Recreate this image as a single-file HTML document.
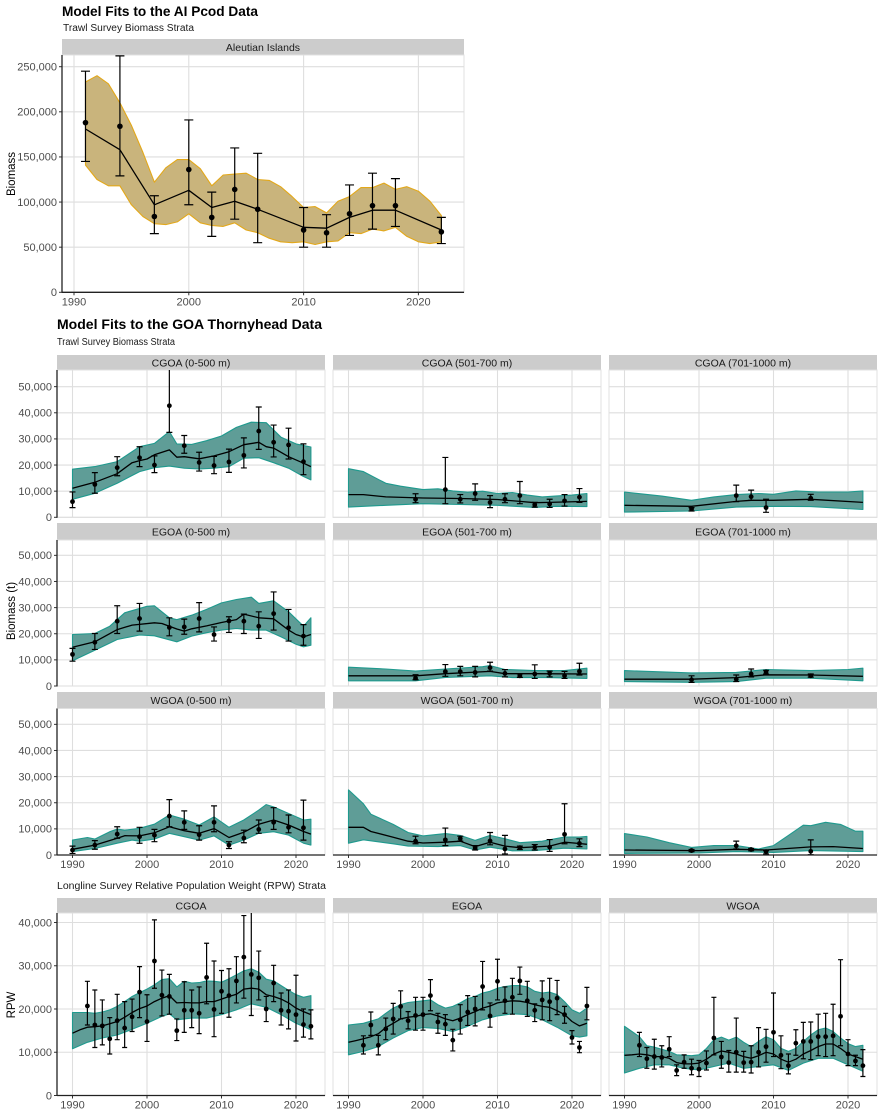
<!DOCTYPE html>
<html><head><meta charset="utf-8"><title>Model Fits</title>
<style>
html,body{margin:0;padding:0;background:#fff;}
svg{display:block;font-family:"Liberation Sans",Arial,sans-serif;}
</style></head>
<body>
<svg id="chart" width="884" height="1117" viewBox="0 0 884 1117" xmlns="http://www.w3.org/2000/svg">
<text x="62" y="16" font-size="14" font-weight="bold" fill="#000" textLength="196" lengthAdjust="spacingAndGlyphs">Model Fits to the AI Pcod Data</text>
<text x="63" y="31" font-size="10" fill="#1a1a1a" textLength="131" lengthAdjust="spacingAndGlyphs">Trawl Survey Biomass Strata</text>
<text x="57" y="329" font-size="14" font-weight="bold" fill="#000" textLength="265" lengthAdjust="spacingAndGlyphs">Model Fits to the GOA Thornyhead Data</text>
<text x="57" y="345" font-size="10" fill="#1a1a1a" textLength="118" lengthAdjust="spacingAndGlyphs">Trawl Survey Biomass Strata</text>
<text x="57" y="889" font-size="10" fill="#1a1a1a" textLength="269" lengthAdjust="spacingAndGlyphs">Longline Survey Relative Population Weight (RPW) Strata</text>
<text transform="translate(15,174) rotate(-90)" text-anchor="middle" font-size="11.5" fill="#000">Biomass</text>
<text transform="translate(15,611) rotate(-90)" text-anchor="middle" font-size="11.5" fill="#000">Biomass (t)</text>
<text transform="translate(15,1005) rotate(-90)" text-anchor="middle" font-size="11.5" fill="#000">RPW</text>
<g id="panels"></g>
</svg>
<script>
// ===== Aleutian Islands (thousands) =====
const aiObsYears=[1991,1994,1997,2000,2002,2004,2006,2010,2012,2014,2016,2018,2022];
const aiObs=[188,184,84,136,83,114,92,69,66,87,96,96,67];
const aiLo=[145,129,65,97,62,81,55,50,50,63,70,73,54];
const aiHi=[245,262,107,191,111,160,154,94,86,119,132,126,83];
const aiFit=[181,158,97,113,94,101,92,72,71,83,91,91,69];
const aiBandYears=[1991,1992,1993,1994,1995,1996,1997,1998,1999,2000,2001,2002,2003,2004,2005,2006,2007,2008,2009,2010,2011,2012,2013,2014,2015,2016,2017,2018,2019,2020,2021,2022];
const aiBandHi=[233,240,231,210,185,155,122,138,147,147,137,118,130,131,132,125,124,117,106,94,95,88,101,106,116,116,121,114,117,112,101,85];
const aiBandLo=[141,125,118,118,97,84,76,75,78,87,77,74,73,77,69,66,60,56,55,56,53,56,57,66,65,70,68,72,62,56,54,56];

// ===== GOA trawl (thousands t) =====
const cg0Years=[1990,1993,1996,1999,2001,2003,2005,2007,2009,2011,2013,2015,2017,2019,2021];
const cg0Obs=[6.0,12.6,19.0,22.8,20.0,42.7,27.4,21.0,19.8,21.2,23.7,33.0,28.7,27.7,21.3];
const cg0Lo=[3.7,9.2,15.9,19.4,17.1,32.5,24.5,17.7,16.7,17.2,18.9,26.0,23.1,22.3,16.3];
const cg0Hi=[9.7,17.1,23.2,27.0,23.5,60,31.3,24.9,23.3,26.1,30.4,42.2,35.3,34.1,28.1];
const cg0FitYears=[1990,1993,1996,1998,1999,2000,2001,2003,2004,2005,2007,2009,2011,2013,2015,2016,2017,2019,2021,2022];
const cg0Fit=[11.1,13.4,16.7,20.9,21.7,22.3,23.9,25.8,23.0,23.2,22.4,23.5,25.1,27.8,28.7,27.0,26.5,23.2,20.7,19.4];
const cg0UpYears=[1990,1993,1996,1999,2001,2003,2004,2006,2008,2010,2012,2014,2016,2018,2020,2022];
const cg0Up=[18.4,19.4,21.3,27.0,28.3,32.8,28.1,27.9,29.3,31.1,34.4,36.4,36.2,30.6,28.1,26.9];
const cg0DnYears=[1990,1993,1996,1999,2001,2003,2005,2007,2009,2011,2013,2015,2017,2019,2021,2022];
const cg0Dn=[6.9,9.2,13.0,17.5,19.0,19.6,18.8,18.5,18.8,19.4,22.6,22.8,20.9,18.8,15.6,14.3];

const eg0Years=[1990,1993,1996,1999,2003,2005,2007,2009,2011,2013,2015,2017,2019,2021];
const eg0Obs=[12.1,16.7,24.8,25.8,22.4,22.6,25.8,19.7,24.9,24.8,22.9,27.7,22.3,19.1];
const eg0Lo=[9.5,14.0,20.1,21.0,19.2,19.8,20.7,17.2,20.5,20.1,18.2,21.4,17.2,15.6];
const eg0Hi=[14.4,20.1,30.7,31.6,26.1,25.6,31.9,22.6,26.5,27.5,28.4,36.0,29.3,23.5];
const eg0FitYears=[1990,1993,1996,1998,2001,2002,2004,2005,2006,2008,2010,2012,2013,2015,2017,2019,2020,2021,2022];
const eg0Fit=[14.8,16.9,21.6,23.3,24.2,23.9,21.8,21.0,21.9,23.0,24.3,25.4,27.5,26.1,25.7,21.4,19.7,18.8,19.7];
const eg0UpYears=[1990,1993,1995,1997,2000,2001,2003,2004,2006,2008,2010,2012,2014,2015,2017,2019,2021,2022];
const eg0Up=[19.7,20.1,22.9,28.0,30.5,30.7,26.1,25.4,27.1,29.3,31.8,33.1,34.0,31.6,32.6,28.4,22.9,26.1];
const eg0DnYears=[1990,1993,1996,1999,2001,2004,2006,2008,2010,2012,2014,2016,2018,2020,2021,2022];
const eg0Dn=[9.7,13.7,17.8,19.5,19.2,16.9,19.1,20.4,21.4,22.0,21.4,21.4,18.8,16.0,15.0,15.6];

const wg0Years=[1990,1993,1996,1999,2001,2003,2005,2007,2009,2011,2013,2015,2017,2019,2021];
const wg0Obs=[1.9,3.8,8.0,7.0,7.6,14.9,12.5,7.8,12.5,3.8,6.5,9.8,12.5,10.6,10.4];
const wg0Lo=[0.6,2.2,6.4,4.5,5.1,10.8,9.8,5.7,8.9,2.5,4.7,8.3,9.8,8.5,5.7];
const wg0Hi=[3.4,5.5,10.8,10.6,9.8,21.2,16.9,11.2,18.8,5.1,9.5,13.4,18.1,15.3,21.0];
const wg0FitYears=[1990,1993,1996,1997,1999,2001,2003,2005,2007,2009,2011,2013,2015,2017,2019,2021,2022];
const wg0Fit=[2.2,3.8,6.4,7.4,7.3,8.5,10.8,9.3,8.3,10.1,6.7,8.7,11.8,13.4,11.5,9.0,8.0];
const wg0UpYears=[1990,1992,1993,1995,1996,1997,1999,2001,2003,2005,2007,2009,2011,2013,2015,2016,2017,2019,2021,2022];
const wg0Up=[5.7,6.7,6.1,8.9,9.9,9.5,10.2,11.8,15.3,13.7,11.5,14.6,10.6,13.4,17.2,19.3,18.4,15.9,13.4,13.7];
const wg0DnYears=[1990,1993,1996,1998,1999,2001,2003,2005,2007,2009,2011,2013,2015,2017,2019,2021,2022];
const wg0Dn=[1.3,2.5,4.5,5.7,5.3,6.1,8.3,7.0,5.7,7.3,3.8,5.7,8.3,8.9,7.6,4.5,3.8];

const cg5Years=[1999,2003,2005,2007,2009,2011,2013,2015,2017,2019,2021];
const cg5Obs=[6.9,10.6,6.9,9.1,5.7,6.9,8.3,4.8,5.1,6.3,7.7];
const cg5Lo=[5.6,5.2,5.5,6.5,3.7,5.6,5.2,3.9,3.8,4.3,5.7];
const cg5Hi=[9.0,22.9,8.7,12.8,8.3,9.0,13.7,5.7,6.9,8.7,11.0];
const cg5FitYears=[1990,1992,1995,2000,2005,2010,2013,2015,2017,2022];
const cg5Fit=[8.7,8.7,7.8,7.4,7.2,6.8,6.1,5.6,5.7,6.1];
const cg5UpYears=[1990,1992,1995,1997,2000,2002,2004,2006,2008,2010,2012,2014,2016,2018,2020,2022];
const cg5Up=[18.6,17.5,13.0,11.9,10.6,10.9,10.1,9.6,10.0,9.1,9.5,8.5,7.8,8.2,8.5,9.1];
const cg5DnYears=[1990,1995,2000,2005,2010,2015,2018,2022];
const cg5Dn=[3.9,4.6,5.2,4.9,4.6,3.8,4.2,4.1];

const cg7Years=[1999,2005,2007,2009,2015];
const cg7Obs=[3.2,8.3,7.9,3.7,7.3];
const cg7Lo=[2.4,6.0,6.5,1.9,6.5];
const cg7Hi=[3.7,12.3,10.4,6.9,8.8];
const cg7FitYears=[1990,1999,2005,2007,2010,2015,2022];
const cg7Fit=[4.6,4.2,6.1,6.5,6.5,6.9,5.7];
const cg7UpYears=[1990,1995,1999,2002,2005,2008,2010,2013,2016,2020,2022];
const cg7Up=[9.7,8.1,6.5,7.8,8.7,9.1,8.8,10.1,9.7,9.7,10.1];
const cg7DnYears=[1990,1999,2005,2010,2015,2022];
const cg7Dn=[2.0,2.4,3.9,4.2,4.1,3.0];

const eg5Years=[1999,2003,2005,2007,2009,2011,2013,2015,2017,2019,2021];
const eg5Obs=[3.0,5.5,5.5,5.2,7.0,4.8,3.9,4.6,4.8,3.9,5.6];
const eg5Lo=[2.4,3.7,3.9,3.5,5.7,3.5,3.3,2.9,3.5,2.9,4.2];
const eg5Hi=[4.3,8.2,7.5,7.5,9.1,6.3,4.6,8.1,5.7,5.6,8.7];
const eg5FitYears=[1990,1999,2003,2009,2011,2015,2022];
const eg5Fit=[3.9,3.9,4.7,5.6,4.7,4.7,4.6];
const eg5UpYears=[1990,1995,1999,2003,2008,2009,2011,2015,2019,2022];
const eg5Up=[7.2,6.5,5.7,6.5,7.4,7.8,6.3,5.9,5.9,6.8];
const eg5DnYears=[1990,1999,2003,2009,2012,2016,2022];
const eg5Dn=[2.0,2.0,3.3,3.9,3.2,3.3,2.9];

const eg7Years=[1999,2005,2007,2009,2015];
const eg7Obs=[2.4,2.6,4.6,5.4,3.9];
const eg7Lo=[1.4,1.7,3.5,4.6,3.4];
const eg7Hi=[3.9,4.2,6.5,6.0,4.6];
const eg7FitYears=[1990,1999,2005,2009,2015,2022];
const eg7Fit=[2.6,2.6,3.2,4.3,4.2,3.7];
const eg7UpYears=[1990,1999,2005,2009,2015,2020,2022];
const eg7Up=[5.9,5.0,5.2,6.3,5.9,6.3,6.8];
const eg7DnYears=[1990,1999,2005,2009,2015,2022];
const eg7Dn=[1.7,1.4,1.7,3.0,3.0,2.0];

const wg5Years=[1999,2003,2005,2007,2009,2011,2013,2015,2017,2019,2021];
const wg5Obs=[5.3,5.8,6.3,2.7,5.4,2.3,2.8,3.0,3.0,7.9,4.4];
const wg5Lo=[4.3,3.6,5.3,1.9,3.9,0.4,2.1,1.9,1.4,4.3,3.2];
const wg5Hi=[7.2,10.3,7.2,3.6,8.6,7.5,3.4,4.0,5.9,19.6,6.2];
const wg5FitYears=[1990,1992,1993,1996,1998,2000,2003,2005,2007,2009,2011,2013,2015,2017,2019,2021,2022];
const wg5Fit=[10.6,10.6,9.0,6.8,5.3,4.6,4.9,5.3,3.2,4.9,3.4,2.8,3.1,3.4,4.9,4.4,4.1];
const wg5UpYears=[1990,1992,1993,1996,1998,2000,2003,2005,2007,2009,2011,2013,2016,2019,2021,2022];
const wg5Up=[24.9,19.6,15.6,11.7,8.6,7.3,8.2,7.5,5.6,7.5,6.2,4.7,5.3,6.9,6.9,7.1];
const wg5DnYears=[1990,1992,1996,1998,2002,2005,2007,2009,2012,2015,2019,2022];
const wg5Dn=[4.5,5.8,4.3,3.4,3.2,3.6,1.9,3.0,1.6,1.7,2.6,2.3];

const wg7Years=[1999,2005,2007,2009,2015];
const wg7Obs=[1.7,3.5,2.1,1.3,1.4];
const wg7Lo=[1.3,2.3,1.6,0.4,0.1];
const wg7Hi=[2.1,5.3,2.5,1.7,5.8];
const wg7FitYears=[1990,2000,2005,2009,2015,2018,2022];
const wg7Fit=[1.9,1.7,2.2,1.9,3.1,3.2,2.5];
const wg7UpYears=[1990,1993,1996,1999,2002,2005,2008,2010,2012,2014,2015,2017,2019,2021,2022];
const wg7Up=[8.2,6.9,4.7,2.9,3.6,3.6,2.3,3.6,7.5,11.4,11.2,12.5,11.7,9.1,9.1];
const wg7DnYears=[1990,2000,2005,2010,2015,2022];
const wg7Dn=[0.6,0.8,1.3,1.0,1.7,1.3];

// ===== Longline RPW (thousands) =====
const llYears=[1992,1993,1994,1995,1996,1997,1998,1999,2000,2001,2002,2003,2004,2005,2006,2007,2008,2009,2010,2011,2012,2013,2014,2015,2016,2017,2018,2019,2020,2021,2022];
const llFitYears=[1990,1991,1992,1993,1994,1995,1996,1997,1998,1999,2000,2001,2002,2003,2004,2005,2006,2007,2008,2009,2010,2011,2012,2013,2014,2015,2016,2017,2018,2019,2020,2021,2022];
const llcObs=[20.7,16.3,16.1,13.1,17.3,15.6,18.2,23.9,17.1,31.1,23.2,22.9,15.0,19.7,19.7,19.0,27.3,19.9,24.1,23.1,26.5,32.0,28.0,27.2,20.0,26.0,19.7,19.5,18.7,16.4,16.0];
const llcHi=[26.4,24.4,22.1,18.0,23.4,21.7,22.3,29.8,23.3,40.6,29.0,28.0,17.7,26.3,24.4,25.1,35.2,31.1,28.9,29.3,32.1,41.6,45,33.4,22.9,30.1,23.7,24.4,27.8,20.0,19.8];
const llcLo=[16.3,11.1,11.7,9.6,12.9,11.1,14.8,18.0,12.5,24.8,18.4,18.8,12.7,14.6,15.7,14.3,21.2,13.6,19.0,18.1,21.4,22.5,18.5,22.1,17.1,21.7,16.3,15.4,12.6,13.5,13.1];
const llcFit=[14.4,15.2,15.8,15.9,16.1,16.6,17.1,18.1,19.2,20.1,20.7,21.7,22.5,23.1,21.4,21.5,21.4,21.4,21.7,21.7,22.3,22.9,23.4,24.6,24.8,24.6,23.3,22.9,22.3,21.4,20.2,19.4,18.7];
const llcUpYears=[1990,1992,1993,1994,1995,1996,1997,1998,1999,2000,2001,2002,2003,2004,2005,2006,2007,2008,2009,2010,2011,2012,2013,2014,2015,2016,2017,2018,2019,2020,2021,2022];
const llcUp=[19.2,19.2,19.0,19.3,19.8,20.6,21.7,22.9,23.8,24.6,25.6,26.8,27.0,25.1,26.4,26.0,26.1,26.5,26.4,26.2,27.0,27.9,28.8,29.3,28.5,26.9,26.5,25.4,24.3,23.3,22.7,23.1];
const llcDnYears=[1990,1992,1994,1996,1998,2000,2002,2003,2004,2006,2008,2010,2012,2014,2016,2018,2020,2022];
const llcDn=[10.8,12.3,13.3,14.0,15.3,16.7,18.3,18.9,17.5,17.9,17.9,18.7,19.8,21.2,20.4,18.7,16.7,15.2];

const lleObs=[11.6,16.3,11.6,15.4,17.7,20.6,17.3,18.5,18.7,23.1,17.0,16.5,12.8,17.5,19.3,20.0,25.2,18.4,26.4,21.9,22.7,26.5,21.9,19.7,22.1,21.7,22.5,18.7,13.4,11.1,20.7];
const lleHi=[13.8,19.3,13.9,17.9,21.3,24.2,19.4,22.7,22.7,26.8,19.0,18.7,15.3,21.0,23.1,22.9,31.0,21.4,31.5,25.1,27.1,29.7,26.4,21.2,26.5,27.1,26.6,20.6,15.0,12.5,25.0];
const lleLo=[9.6,13.9,9.4,12.9,14.2,17.7,15.4,15.1,15.1,19.6,14.4,13.9,10.3,14.2,16.2,16.1,19.8,15.8,22.1,19.0,18.8,23.4,18.3,17.1,17.5,17.3,18.7,16.7,11.9,9.9,17.5];
const lleFit=[12.3,12.7,13.1,13.6,14.3,15.7,16.7,17.7,18.1,18.3,18.7,18.9,18.4,17.7,17.3,17.9,18.7,19.4,20.2,20.7,21.4,21.7,21.9,21.8,21.5,21.0,20.6,20.4,19.6,18.7,17.1,16.1,16.7];
const lleUpYears=[1990,1992,1994,1995,1996,1997,1998,2000,2001,2002,2003,2004,2005,2006,2007,2008,2009,2010,2011,2012,2013,2014,2015,2016,2017,2018,2019,2020,2021,2022];
const lleUp=[16.3,16.7,17.7,19.0,20.2,21.0,21.5,21.9,22.1,21.0,20.2,20.6,21.4,22.4,22.9,23.7,24.1,24.8,25.2,25.4,25.4,25.1,24.1,23.7,23.9,23.3,21.7,19.8,19.0,20.2];
const lleDnYears=[1990,1992,1994,1996,1998,2000,2002,2004,2006,2008,2010,2012,2014,2016,2018,2020,2021,2022];
const lleDn=[9.4,10.2,11.3,13.3,15.0,15.7,15.5,14.8,16.0,17.5,18.4,18.9,18.7,17.5,15.8,13.8,13.5,13.8];

const llwObs=[11.6,8.5,9.0,8.8,10.7,5.8,7.7,6.3,6.1,7.5,13.3,8.9,7.6,10.0,7.6,7.7,10.0,11.3,14.6,9.3,6.9,12.1,12.5,12.5,13.6,13.6,13.8,18.3,9.6,8.0,6.9];
const llwHi=[14.6,11.1,13.0,11.5,13.6,7.1,9.4,8.4,8.1,10.3,22.7,12.5,10.4,17.9,10.2,11.5,15.7,15.3,23.7,13.8,9.6,15.2,16.9,17.0,18.8,19.0,21.1,31.4,12.9,9.3,10.6];
const llwLo=[9.0,6.3,6.1,6.6,9.0,4.6,6.3,4.8,4.4,5.9,9.4,6.3,5.4,5.4,5.4,5.2,6.6,7.7,9.0,6.2,5.0,9.3,8.5,8.3,9.2,9.0,9.2,11.5,6.9,6.9,4.4];
const llwFit=[9.3,9.4,9.6,9.4,9.0,9.0,8.6,7.6,7.3,7.3,7.5,8.4,9.6,10.3,10.0,9.6,9.0,8.6,9.2,10.0,9.6,8.4,7.7,8.4,9.6,10.4,11.3,11.9,11.9,10.9,9.6,9.0,8.4];
const llwUpYears=[1990,1992,1993,1994,1996,1997,1999,2000,2001,2002,2003,2004,2005,2006,2007,2008,2009,2010,2011,2012,2013,2014,2015,2016,2017,2018,2019,2020,2021,2022];
const llwUp=[16.0,13.6,11.5,11.2,10.2,9.4,9.2,9.4,10.9,12.9,13.5,12.8,13.5,12.3,11.3,12.5,13.6,12.9,10.9,10.2,10.9,12.5,14.0,15.2,15.6,14.8,13.3,12.0,11.3,11.6];
const llwDnYears=[1990,1992,1994,1996,1998,2000,2002,2004,2006,2008,2010,2012,2014,2016,2018,2020,2022];
const llwDn=[5.2,6.3,7.1,7.1,6.3,5.9,6.7,7.5,6.3,6.7,7.1,5.8,7.5,8.6,8.6,7.1,5.6];

// ===== tick labels =====
const aiYTicks=[0,50,100,150,200,250];
const aiYTickLabels=["0","50,000","100,000","150,000","200,000","250,000"];
const goaYTicks=[0,10,20,30,40,50];
const goaYTickLabels=["0","10,000","20,000","30,000","40,000","50,000"];
const llYTicks=[0,10,20,30,40];
const llYTickLabels=["0","10,000","20,000","30,000","40,000"];
const xTicks=[1990,2000,2010,2020];
const xTickLabels=["1990","2000","2010","2020"];

// ---- drawing ----
const NS="http://www.w3.org/2000/svg";
const root=document.getElementById('panels');
let clipId=0;
function mk(tag,attrs,parent){
  const e=document.createElementNS(NS,tag);
  for(const k in attrs) e.setAttribute(k,attrs[k]);
  (parent||root).appendChild(e);
  return e;
}
function drawPanel(c){
  const g=mk('g',{});
  
  
  const xs=v=>c.x1990+(v-1990)*c.xPer;
  const ys=v=>c.y0+(-v)*c.yPer;
  const right=c.left+c.w;
  // strip
  const strip=mk('rect',{x:c.left,y:c.stripTop,width:c.w,height:c.top-c.stripTop,fill:'#cccccc'},g);
  
  
  const st=mk('text',{x:c.left+c.w/2,y:c.stripTop+(c.top-c.stripTop)/2+3.8,'text-anchor':'middle','font-size':10.5,fill:'#1a1a1a'},g);
  st.textContent=c.label;
  
  
  // background & grid
  mk('rect',{x:c.left,y:c.top,width:c.w,height:c.y0-c.top,fill:'#fff',stroke:'#e0e0e0','stroke-width':1},g);
  c.yTicks.forEach((t,i)=>{
    const y=ys(t);
    if(y>c.top+1) {
      const gl=mk('line',{x1:c.left,x2:right,y1:y,y2:y,stroke:'#dedede','stroke-width':1.1},g);
      
      
    }
    if(c.yLabels){
      const tl=mk('text',{x:c.left-5,y:y+3.8,'text-anchor':'end','font-size':11,fill:'#4d4d4d'},g);
      tl.textContent=c.yTickLabels[i];
      
      
      mk('line',{x1:c.left-3,x2:c.left,y1:y,y2:y,stroke:'#333','stroke-width':1},g);
    }
  });
  xTicks.forEach((t,i)=>{
    const x=xs(t);
    const gl=mk('line',{x1:x,x2:x,y1:c.top,y2:c.y0,stroke:'#dedede','stroke-width':1.1},g);
    
    
    if(c.xLabels){
      mk('line',{x1:x,x2:x,y1:c.y0,y2:c.y0+3,stroke:'#333','stroke-width':1},g);
      const tl=mk('text',{x:x,y:c.y0+13,'text-anchor':'middle','font-size':11,fill:'#4d4d4d'},g);
      tl.textContent=xTickLabels[i];
      
      
    }
  });
  // clip
  clipId++;
  const cp=mk('clipPath',{id:'cp'+clipId},g);
  mk('rect',{x:c.left,y:c.top,width:c.w,height:c.y0-c.top},cp);
  const pg=mk('g',{'clip-path':'url(#cp'+clipId+')'},g);
  // band
  let d='';
  c.upYears.forEach((yr,i)=>{d+=(i?'L':'M')+xs(yr).toFixed(1)+','+ys(c.up[i]).toFixed(1);});
  for(let i=c.dnYears.length-1;i>=0;i--){d+='L'+xs(c.dnYears[i]).toFixed(1)+','+ys(c.dn[i]).toFixed(1);}
  d+='Z';
  const band=mk('path',{d:d,fill:c.fill,stroke:c.stroke,'stroke-width':1.1,'stroke-linejoin':'round'},pg);
  
  
  // fit line
  let fd='';
  c.fitYears.forEach((yr,i)=>{fd+=(i?'L':'M')+xs(yr).toFixed(1)+','+ys(c.fit[i]).toFixed(1);});
  const fl=mk('path',{d:fd,fill:'none',stroke:'#000','stroke-width':1.3,'stroke-linejoin':'round'},pg);
  
  
  // obs
  c.obsYears.forEach((yr,i)=>{
    const x=xs(yr), cw=c.cap;
    const eb=mk('path',{d:'M'+x+','+ys(c.lo[i])+'L'+x+','+ys(c.hi[i])+'M'+(x-cw)+','+ys(c.lo[i])+'L'+(x+cw)+','+ys(c.lo[i])+'M'+(x-cw)+','+ys(c.hi[i])+'L'+(x+cw)+','+ys(c.hi[i]),stroke:'#000','stroke-width':1.2,fill:'none'},pg);
    
    
    const pt=mk('circle',{cx:x,cy:ys(c.obs[i]),r:c.r,fill:'#000'},pg);
    
    
  });
  // axes
  if(c.leftAxis) mk('line',{x1:c.left,x2:c.left,y1:c.top,y2:c.y0+0.5,stroke:'#222','stroke-width':1.3},g);
  if(c.bottomAxis) mk('line',{x1:c.left,x2:right,y1:c.y0,y2:c.y0,stroke:'#222','stroke-width':1.3},g);
}

// AI panel
drawPanel({name:'aleutian-islands',label:'Aleutian Islands',left:62,w:402,stripTop:39,top:55,y0:292.3,yPer:0.9024,
  x1990:74,xPer:11.48,yTicks:aiYTicks,yTickLabels:aiYTickLabels,yLabels:true,xLabels:true,leftAxis:true,bottomAxis:true,
  fill:'#c9b47c',stroke:'#e3a81a',cap:4.5,r:2.8,
  obsYears:aiObsYears,obs:aiObs,lo:aiLo,hi:aiHi,fitYears:aiObsYears,fit:aiFit,
  upYears:aiBandYears,up:aiBandHi,dnYears:aiBandYears,dn:aiBandLo});

const colLeft=[57,333,609];
const goaRows=[{stripTop:355,top:370,y0:517.3},{stripTop:523,top:540,y0:686},{stripTop:692,top:708.5,y0:855}];
const TEAL='#5f9d97', TEALS='#1f9a8e';
const goaPanels=[
  ['cgoa-0-500','CGOA (0-500 m)',0,0,cg0Years,cg0Obs,cg0Lo,cg0Hi,cg0FitYears,cg0Fit,cg0UpYears,cg0Up,cg0DnYears,cg0Dn],
  ['cgoa-501-700','CGOA (501-700 m)',0,1,cg5Years,cg5Obs,cg5Lo,cg5Hi,cg5FitYears,cg5Fit,cg5UpYears,cg5Up,cg5DnYears,cg5Dn],
  ['cgoa-701-1000','CGOA (701-1000 m)',0,2,cg7Years,cg7Obs,cg7Lo,cg7Hi,cg7FitYears,cg7Fit,cg7UpYears,cg7Up,cg7DnYears,cg7Dn],
  ['egoa-0-500','EGOA (0-500 m)',1,0,eg0Years,eg0Obs,eg0Lo,eg0Hi,eg0FitYears,eg0Fit,eg0UpYears,eg0Up,eg0DnYears,eg0Dn],
  ['egoa-501-700','EGOA (501-700 m)',1,1,eg5Years,eg5Obs,eg5Lo,eg5Hi,eg5FitYears,eg5Fit,eg5UpYears,eg5Up,eg5DnYears,eg5Dn],
  ['egoa-701-1000','EGOA (701-1000 m)',1,2,eg7Years,eg7Obs,eg7Lo,eg7Hi,eg7FitYears,eg7Fit,eg7UpYears,eg7Up,eg7DnYears,eg7Dn],
  ['wgoa-0-500','WGOA (0-500 m)',2,0,wg0Years,wg0Obs,wg0Lo,wg0Hi,wg0FitYears,wg0Fit,wg0UpYears,wg0Up,wg0DnYears,wg0Dn],
  ['wgoa-501-700','WGOA (501-700 m)',2,1,wg5Years,wg5Obs,wg5Lo,wg5Hi,wg5FitYears,wg5Fit,wg5UpYears,wg5Up,wg5DnYears,wg5Dn],
  ['wgoa-701-1000','WGOA (701-1000 m)',2,2,wg7Years,wg7Obs,wg7Lo,wg7Hi,wg7FitYears,wg7Fit,wg7UpYears,wg7Up,wg7DnYears,wg7Dn]
];
goaPanels.forEach(p=>{
  const row=goaRows[p[2]], col=p[3];
  drawPanel({name:p[0],label:p[1],left:colLeft[col],w:268,stripTop:row.stripTop,top:row.top,y0:row.y0,yPer:2.613,
    x1990:colLeft[col]+15.5,xPer:7.45,yTicks:goaYTicks,yTickLabels:goaYTickLabels,yLabels:col===0,xLabels:p[2]===2,
    leftAxis:col===0,bottomAxis:p[2]===2,fill:TEAL,stroke:TEALS,cap:3,r:2.4,
    obsYears:p[4],obs:p[5],lo:p[6],hi:p[7],fitYears:p[8],fit:p[9],upYears:p[10],up:p[11],dnYears:p[12],dn:p[13]});
});

const llPanels=[
  ['longline-cgoa','CGOA',0,llcObs,llcLo,llcHi,llcFit,llcUpYears,llcUp,llcDnYears,llcDn],
  ['longline-egoa','EGOA',1,lleObs,lleLo,lleHi,lleFit,lleUpYears,lleUp,lleDnYears,lleDn],
  ['longline-wgoa','WGOA',2,llwObs,llwLo,llwHi,llwFit,llwUpYears,llwUp,llwDnYears,llwDn]
];
llPanels.forEach(p=>{
  const col=p[2];
  drawPanel({name:p[0],label:p[1],left:colLeft[col],w:268,stripTop:898,top:913,y0:1095.5,yPer:4.325,
    x1990:colLeft[col]+15.5,xPer:7.45,yTicks:llYTicks,yTickLabels:llYTickLabels,yLabels:col===0,xLabels:true,
    leftAxis:col===0,bottomAxis:true,fill:TEAL,stroke:TEALS,cap:2.5,r:2.4,
    obsYears:llYears,obs:p[3],lo:p[4],hi:p[5],fitYears:llFitYears,fit:p[6],upYears:p[7],up:p[8],dnYears:p[9],dn:p[10]});
});
</script>
</body></html>
